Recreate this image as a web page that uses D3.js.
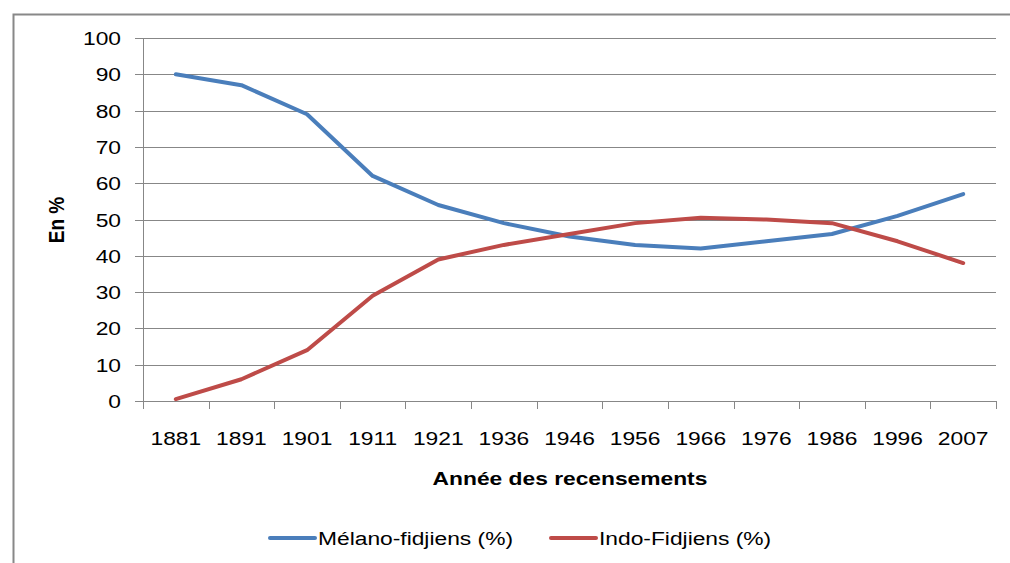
<!DOCTYPE html>
<html>
<head>
<meta charset="utf-8">
<script src="https://cdn.jsdelivr.net/npm/d3@7/dist/d3.min.js"></script>
<style>
  body { margin: 0; background: #fff; }
  svg { display: block; font-family: "Liberation Sans", Arial, sans-serif; }
</style>
</head>
<body>
<svg id="chart" width="1010" height="563"></svg>
<script>
`use strict`;

const years = [`1881`, `1891`, `1901`, `1911`, `1921`, `1936`, `1946`, `1956`, `1966`, `1976`, `1986`, `1996`, `2007`];
const melano = [90, 87, 79, 62, 54, 49, 45.3, 43, 42, 44, 46, 51, 57];
const indo = [0.5, 6, 14, 29, 39, 43, 46, 49, 50.5, 50, 49, 44, 38];
const yTicks = [0, 10, 20, 30, 40, 50, 60, 70, 80, 90, 100];
const seriesNames = [`Mélano-fidjiens (%)`, `Indo-Fidjiens (%)`];
const colors = [`#4A7EBB`, `#BE4B48`];

(function () {

  const svg = d3.select(`#chart`);

  // the source picture is a bit wider than tall, so glyphs get stretched sideways
  const SX = 1.2;
  const put = (g, px, py) => g.attr(`transform`, `translate(${px},${py}) scale(${SX},1)`);

  // outer chart frame
  svg.append(`rect`)
    .attr(`x`, 13.5).attr(`y`, 14.5)
    .attr(`width`, 1010).attr(`height`, 600)
    .attr(`fill`, `none`)
    .attr(`stroke`, `#888`)
    .attr(`stroke-width`, 2);

  const pLeft = 143, pRight = 996, pTop = 38, pBottom = 401;

  const x = d3.scaleBand().domain(years).range([pLeft, pRight]);
  const y = d3.scaleLinear().domain([0, 100]).range([pBottom, pTop]);

  // gridlines
  svg.append(`g`).selectAll(`line`).data(yTicks)
    .enter().append(`line`)
    .attr(`x1`, pLeft - 8).attr(`x2`, pRight)
    .attr(`y1`, d => Math.round(y(d)) + .5)
    .attr(`y2`, d => Math.round(y(d)) + .5)
    .attr(`stroke`, `#878787`)
    .attr(`stroke-width`, 1);

  // y axis line
  svg.append(`line`)
    .attr(`x1`, pLeft + .5).attr(`x2`, pLeft + .5)
    .attr(`y1`, pTop).attr(`y2`, pBottom)
    .attr(`stroke`, `#878787`);

  svg.append(`g`).selectAll(`text`).data(yTicks)
    .enter().append(`text`)
    .each(function (d) { put(d3.select(this), 121, y(d) + 7); })
    .attr(`text-anchor`, `end`)
    .attr(`font-size`, 19)
    .attr(`fill`, `#000`)
    .text(d => d);

  // x ticks at band boundaries
  const bounds = years.map(d => x(d)).concat([pRight]);
  svg.append(`g`).selectAll(`line`).data(bounds)
    .enter().append(`line`)
    .attr(`x1`, d => Math.round(d) + .5).attr(`x2`, d => Math.round(d) + .5)
    .attr(`y1`, pBottom).attr(`y2`, pBottom + 8)
    .attr(`stroke`, `#878787`);

  svg.append(`g`).selectAll(`text`).data(years)
    .enter().append(`text`)
    .each(function (d) { put(d3.select(this), x(d) + x.bandwidth() / 2, 445); })
    .attr(`text-anchor`, `middle`)
    .attr(`font-size`, 19)
    .attr(`fill`, `#000`)
    .text(d => d);

  // axis titles
  put(svg.append(`text`), 570, 485)
    .attr(`text-anchor`, `middle`)
    .attr(`font-size`, 19)
    .attr(`font-weight`, `bold`)
    .text(`Année des recensements`);

  svg.append(`text`)
    .attr(`transform`, `translate(64,220) scale(${SX},1) rotate(-90)`)
    .attr(`text-anchor`, `middle`)
    .attr(`font-size`, 19)
    .attr(`font-weight`, `bold`)
    .text(`En %`);

  // series lines
  const line = d3.line()
    .x((d, i) => x(years[i]) + x.bandwidth() / 2)
    .y(d => y(d));

  [melano, indo].forEach((vals, i) => {
    svg.append(`path`)
      .datum(vals)
      .attr(`d`, line)
      .attr(`fill`, `none`)
      .attr(`stroke`, colors[i])
      .attr(`stroke-width`, 4)
      .attr(`stroke-linejoin`, `round`)
      .attr(`stroke-linecap`, `round`);
  });

  // legend
  const legX = [270, 551];
  seriesNames.forEach((name, i) => {
    svg.append(`line`)
      .attr(`x1`, legX[i]).attr(`x2`, legX[i] + 45)
      .attr(`y1`, 538).attr(`y2`, 538)
      .attr(`stroke`, colors[i])
      .attr(`stroke-width`, 4)
      .attr(`stroke-linecap`, `round`);
    put(svg.append(`text`), legX[i] + 48, 545)
      .attr(`font-size`, 19)
      .text(name);
  });
})();
</script>
</body>
</html>
